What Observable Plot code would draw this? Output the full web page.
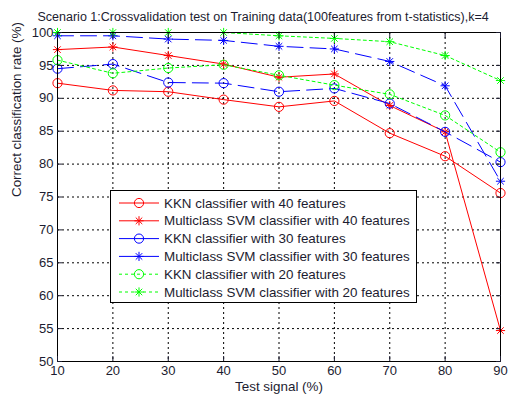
<!DOCTYPE html>
<html><head><meta charset="utf-8">
<script src="https://cdn.jsdelivr.net/npm/d3@7"></script>
<script src="https://cdn.jsdelivr.net/npm/@observablehq/plot@0.6"></script>
<style>
body{margin:0;background:#fff;}
#chart{position:relative;width:517px;height:394px;}
</style>
</head><body><div id="chart"></div>
<script>
// ---- data ----
const testSignal = [10, 20, 30, 40, 50, 60, 70, 80, 90];
const knn40 = [92.3, 91.2, 91.0, 89.8, 88.7, 89.6, 84.7, 81.2, 75.6];
const svm40 = [97.4, 97.8, 96.5, 95.2, 93.2, 93.7, 88.9, 84.9, 54.7];
const knn30 = [94.5, 95.2, 92.4, 92.3, 91.0, 91.5, 89.2, 84.9, 80.3];
const svm30 = [99.5, 99.5, 99.0, 98.8, 97.9, 97.5, 95.6, 91.9, 77.4];
const knn20 = [95.8, 93.8, 94.6, 95.1, 93.5, 92.0, 90.6, 87.4, 81.8];
const svm20 = [100, 100, 100, 100, 99.5, 99.1, 98.6, 96.5, 92.7];
const seriesNames = [
  "KKN classifier with 40 features",
  "Multiclass SVM classifier with 40 features",
  "KKN classifier with 30 features",
  "Multiclass SVM classifier with 30 features",
  "KKN classifier with 20 features",
  "Multiclass SVM classifier with 20 features"
];
const xTicks = [10, 20, 30, 40, 50, 60, 70, 80, 90];
const yTicks = [50, 55, 60, 65, 70, 75, 80, 85, 90, 95, 100];
const titleText = "Scenario 1:Crossvalidation test on Training data(100features from t-statistics),k=4";
const xLabel = "Test signal (%)";
const yLabel = "Correct classification rate (%)";

// ---- styles ----
const seriesValues = [knn40, svm40, knn30, svm30, knn20, svm20];
const seriesColors = ["#ff0000", "#ff0000", "#0000ff", "#0000ff", "#00ff00", "#00ff00"];
const seriesDash = [null, null, "16,7", "16,7", "3,3", "3,3"];
const legendDash = [null, null, null, null, "3,3", "3,3"];
const starSym = {
  draw(ctx, size) {
    const r = Math.sqrt(size / Math.PI), d = r / Math.SQRT2;
    ctx.moveTo(-r, 0); ctx.lineTo(r, 0);
    ctx.moveTo(0, -r); ctx.lineTo(0, r);
    ctx.moveTo(-d, -d); ctx.lineTo(d, d);
    ctx.moveTo(-d, d); ctx.lineTo(d, -d);
  }
};
const seriesSymbol = ["circle", starSym, "circle", starSym, "circle", starSym];
const seriesR = [4.6, 4.6, 4.6, 4.6, 4.6, 4.6];
const textColor = "#1c1c30";
const font = "'Liberation Sans', Arial, sans-serif";

const rows = seriesNames.map((name, i) =>
  testSignal.map((x, j) => ({series: name, x, y: seriesValues[i][j]})));

const marks = [
  Plot.gridX(xTicks, {stroke: "#000", strokeOpacity: 1, strokeDasharray: "2,3"}),
  Plot.gridY(yTicks, {stroke: "#000", strokeOpacity: 1, strokeDasharray: "2,3"})
];
rows.forEach((data, i) => {
  marks.push(Plot.line(data, {x: "x", y: "y", stroke: seriesColors[i], strokeWidth: 1, strokeDasharray: seriesDash[i]}));
  marks.push(Plot.dot(data, {x: "x", y: "y", stroke: seriesColors[i], fill: "none", strokeWidth: 1, symbol: seriesSymbol[i], r: seriesR[i]}));
});
marks.push(
  Plot.frame({stroke: "#000", strokeWidth: 1}),
  Plot.axisX(xTicks, {anchor: "bottom", tickSize: 0, tickPadding: 4, fontSize: 13, label: null}),
  Plot.axisX(xTicks, {anchor: "bottom", tickSize: -5, text: null, label: null}),
  Plot.axisX(xTicks, {anchor: "top", tickSize: -5, text: null, label: null}),
  Plot.axisY(yTicks, {anchor: "left", tickSize: 0, tickPadding: 4, fontSize: 13, label: null}),
  Plot.axisY(yTicks, {anchor: "left", tickSize: -5, text: null, label: null}),
  Plot.axisY(yTicks, {anchor: "right", tickSize: -5, text: null, label: null}),
  Plot.text([titleText], {frameAnchor: "top-left", text: d => d, dx: -20, dy: -16, textAnchor: "start", fontSize: 12.5, lineAnchor: "middle"}),
  Plot.text([xLabel], {frameAnchor: "bottom", text: d => d, dy: 25, fontSize: 13.4, lineAnchor: "middle"}),
  Plot.text([yLabel], {frameAnchor: "left", text: d => d, dx: -41, rotate: -90, fontSize: 13.4, lineAnchor: "middle"})
);

const chart = Plot.plot({
  width: 517, height: 394,
  marginLeft: 57, marginRight: 17, marginTop: 32, marginBottom: 33,
  x: {domain: [10, 90]},
  y: {domain: [50, 100]},
  style: {fontFamily: font, fontSize: "12px", color: textColor, background: "#fff"},
  marks
});
document.getElementById("chart").appendChild(chart);

// ---- legend (inside the SVG) ----
const svg = d3.select(chart);
const lg = svg.append("g").attr("font-family", font).attr("font-size", 13.4).attr("text-anchor", "start");
const lx = 110.5, ly = 190.5, lw = 306, lh = 112, step = 17.8;
lg.append("rect").attr("x", lx).attr("y", ly).attr("width", lw).attr("height", lh)
  .attr("fill", "#fff").attr("stroke", "#000").attr("stroke-width", 1);
seriesNames.forEach((name, i) => {
  const cy = 203 + i * step;
  lg.append("line").attr("x1", 119).attr("x2", 159).attr("y1", cy).attr("y2", cy)
    .attr("stroke", seriesColors[i]).attr("stroke-width", 1)
    .attr("stroke-dasharray", legendDash[i]);
  const sym = d3.symbol(seriesSymbol[i] === "circle" ? d3.symbolCircle : starSym, Math.PI * 4.6 * 4.6);
  lg.append("path").attr("d", sym()).attr("transform", `translate(139,${cy})`)
    .attr("fill", "none").attr("stroke", seriesColors[i]).attr("stroke-width", 1);
  lg.append("text").attr("x", 164).attr("y", cy).attr("dy", "0.35em").attr("text-anchor", "start")
    .attr("fill", textColor).text(name);
});
</script>
</body></html>
